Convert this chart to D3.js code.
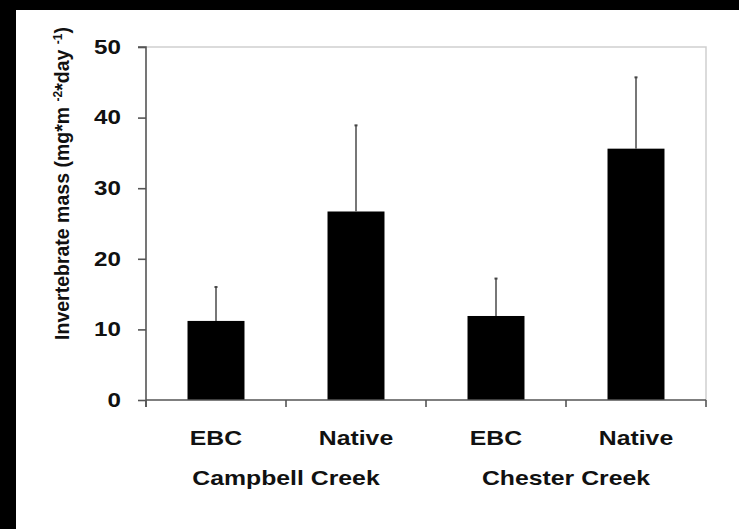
<!DOCTYPE html>
<html>
<head>
<meta charset="utf-8">
<script src="https://cdn.jsdelivr.net/npm/d3@7"></script>
<style>
  body { margin: 0; background: #000; }
  svg { display: block; }
  text { font-family: "Liberation Sans", Arial, sans-serif; font-weight: bold; fill: #111; }
</style>
</head>
<body>
<svg id="chart" width="739" height="529"></svg>
<script>
// bar values
const categories = ["Campbell EBC", "Campbell Native", "Chester EBC", "Chester Native"];
const barLabels = ["EBC", "Native", "EBC", "Native"];
const creeks = ["Campbell Creek", "Chester Creek"];
const means = [11.2, 26.7, 11.9, 35.6];
const errTops = [16.0, 38.9, 17.2, 45.7];
const yTicks = [0, 10, 20, 30, 40, 50];

const W = 739, H = 529;
const margin = { top: 47, right: 33, bottom: 129, left: 146 };
const width = W - margin.left - margin.right;
const height = H - margin.top - margin.bottom;
const stretch = 1.24; // the scan is a bit wider than tall, text looks widened

const svg = d3.select("#chart");

// black scan border on top and left
svg.append("rect").attr("width", W).attr("height", H).attr("fill", "#000");
svg.append("rect").attr("x", 16).attr("y", 10).attr("width", W - 16).attr("height", H - 10).attr("fill", "#fff");

const g = svg.append("g").attr("transform", `translate(${margin.left},${margin.top})`);

const pad = 0.593;
const x = d3.scaleBand().domain(categories).range([0, width]).paddingInner(pad).paddingOuter(pad / 2);
const y = d3.scaleLinear().domain([0, 50]).range([height, 0]);

// light plot-area frame (top + right)
g.append("path")
  .attr("d", `M0,0H${width}V${height}`)
  .attr("fill", "none").attr("stroke", "#cfcfcf").attr("stroke-width", 1.5);

// bars
g.selectAll(".bar").data(categories).enter().append("rect")
  .attr("class", "bar")
  .attr("x", d => x(d))
  .attr("width", x.bandwidth())
  .attr("y", (d, i) => y(means[i]))
  .attr("height", (d, i) => y(0) - y(means[i]))
  .attr("fill", "#000");

// error bars (upper only)
const cx = d => x(d) + x.bandwidth() / 2;
g.selectAll(".err").data(categories).enter().append("line")
  .attr("class", "err")
  .attr("x1", cx).attr("x2", cx)
  .attr("y1", (d, i) => y(means[i]))
  .attr("y2", (d, i) => y(errTops[i]))
  .attr("stroke", "#555").attr("stroke-width", 1.6);
g.selectAll(".cap").data(categories).enter().append("line")
  .attr("class", "cap")
  .attr("x1", d => cx(d) - 1.5).attr("x2", d => cx(d) + 1.5)
  .attr("y1", (d, i) => y(errTops[i]))
  .attr("y2", (d, i) => y(errTops[i]))
  .attr("stroke", "#444").attr("stroke-width", 2);

// y axis
const yAxis = g.append("g")
  .call(d3.axisLeft(y).tickValues(yTicks).tickSize(8));
yAxis.selectAll("path, line").attr("stroke", "#555").attr("stroke-width", 1.6);
yAxis.select(".domain").attr("d", `M0,${height + 7}V0H-8`);
yAxis.selectAll("text")
  .attr("x", 0)
  .attr("transform", `translate(-25,0) scale(${stretch},1)`)
  .attr("font-size", 19.5).attr("fill", "#111")
  .attr("font-family", "Liberation Sans, Arial, sans-serif").attr("font-weight", "bold");

// x axis: ticks at the category boundaries
const step = x.step();
const bounds = d3.range(categories.length + 1).map(i => i * step);
const xAxisG = g.append("g").attr("transform", `translate(0,${height})`);
xAxisG.append("line").attr("x1", 0).attr("x2", width)
  .attr("stroke", "#555").attr("stroke-width", 1.6);
xAxisG.selectAll(".xt").data(bounds).enter().append("line")
  .attr("x1", d => d).attr("x2", d => d).attr("y1", 0).attr("y2", 7)
  .attr("stroke", "#555").attr("stroke-width", 1.6);

xAxisG.selectAll(".xl").data(categories).enter().append("text")
  .attr("transform", d => `translate(${cx(d)},45) scale(${stretch},1)`)
  .attr("text-anchor", "middle").attr("font-size", 20)
  .text((d, i) => barLabels[i]);

g.selectAll(".creek").data(creeks).enter().append("text")
  .attr("transform", (d, i) => `translate(${(cx(categories[i * 2]) + cx(categories[i * 2 + 1])) / 2},${height + 85}) scale(${stretch},1)`)
  .attr("text-anchor", "middle").attr("font-size", 20)
  .text(d => d);

// y title with superscripts
const title = svg.append("text")
  .attr("transform", `translate(69,${margin.top + height / 2 - 40}) rotate(-90)`)
  .attr("text-anchor", "middle").attr("font-size", 19.5);
title.append("tspan").text("Invertebrate mass (mg*m ");
title.append("tspan").attr("dy", -7).attr("font-size", 12).text("-2");
title.append("tspan").attr("dy", 7).text("*day ");
title.append("tspan").attr("dy", -7).attr("font-size", 12).text("-1");
title.append("tspan").attr("dy", 7).text(")");
</script>
</body>
</html>
